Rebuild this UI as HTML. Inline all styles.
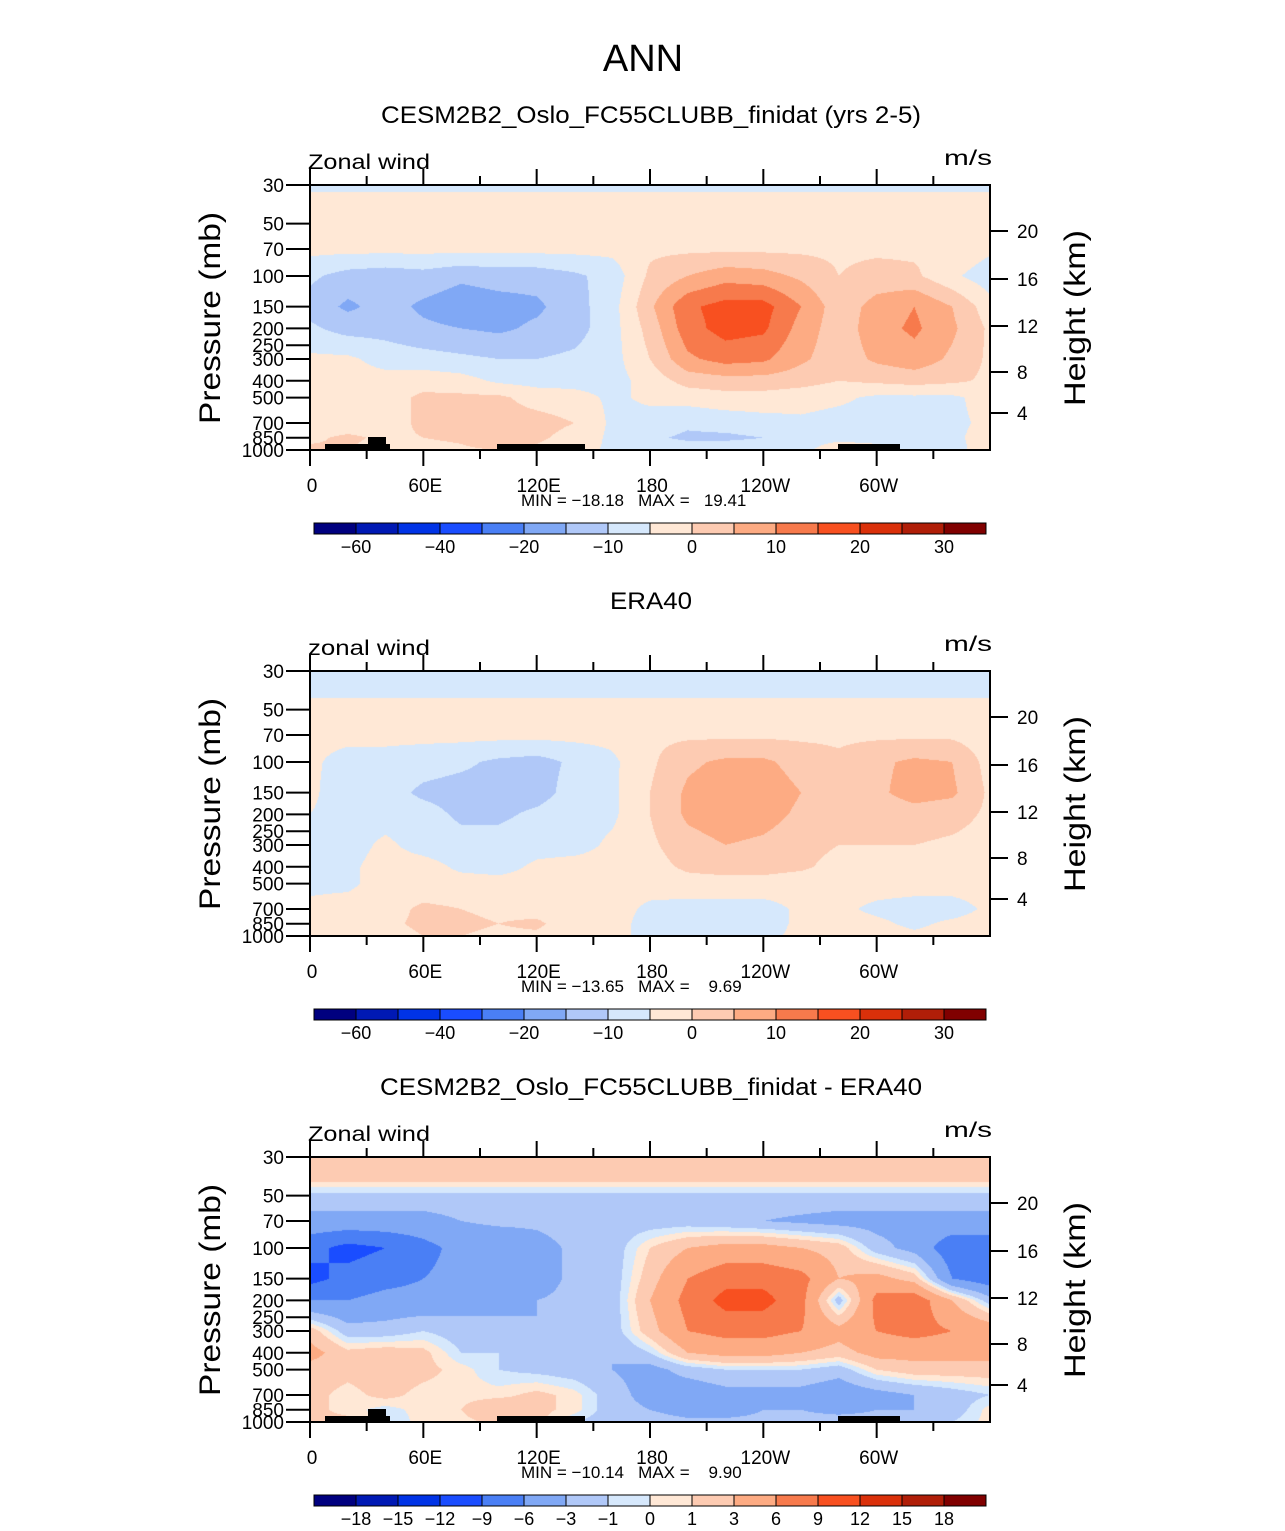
<!DOCTYPE html>
<html><head><meta charset="utf-8"><style>
body{margin:0;background:#fff;width:1285px;height:1531px;overflow:hidden;position:relative;font-family:"Liberation Sans",sans-serif}
canvas{position:absolute}
svg{position:absolute;left:0;top:0}
</style></head><body>
<canvas id="c0" width="680" height="265" style="left:310px;top:185px"></canvas>
<canvas id="c1" width="680" height="265" style="left:310px;top:671px"></canvas>
<canvas id="c2" width="680" height="265" style="left:310px;top:1157px"></canvas>
<svg id="s" width="1285" height="1531"></svg>
<script>
const lons=[0,20,40,60,80,100,120,140,160,180,200,220,240,260,280,300,320,340,360];
const plevs=[30,40,50,70,100,150,200,300,400,500,700,850,1000];
const model=[
[-1,-1,-1,-1,-1,-1,-1,-1,-1,-1,-1,-1,-1,-1,-1,-1,-1,-1,-1],
[2,2,2,2,2,2,2,2,2,2,2,2,2,2,2,2,2,2,2],
[2,2,2,2,2,2,2,2,2,2,2,2,2,2,2,2,2,2,2],
[1.5,1.5,1.5,1.5,1.5,1.5,1.5,1.5,1.5,4,4,4,4,4,4,4,4,4,1],
[-4,-7,-8,-7,-9,-8,-8,-6,-3,6,10,13,12,9,5,7,6,1,-3],
[-7,-11,-8,-11,-13,-12,-11,-7,-2,9,19,22,22,15,7,12,15,10,2],
[-4,-7,-7,-9,-10,-11,-9,-7,-2,7,18,22,21,13,7,13,16,11,4],
[1,1,-2,-3,-4,-5,-5,-4,-2,5,14,17,16,11,7,11,13,9,4],
[3,2,2,3,2,-1,-2,-2,-2,2,7,8,8,7,5,6,7,6,4],
[2,2,3,6,6,6,3,2,-1,1,2,3,3,2,1,-1,-1,-1,2],
[2,2,3,6,7,7,7,5,-1,-2,-4,-3,-2,-1,-2,-2,-2,-1,1],
[4,6,4,5,6,10,6,3,-1,-4,-6,-6,-5,-1,-1,-1,-1,-1,2],
[6,5,3,3,4,5,4,2,-1,-3,-2,-2,-2,-1,2,1,-1,-2,3]];
const era40=[
[-2,-2,-2,-2,-2,-2,-2,-2,-2,-2,-2,-2,-2,-2,-2,-2,-2,-2,-2],
[-1,-1,-1,-1,-1,-1,-1,-1,-1,-1,-1,-1,-1,-1,-1,-1,-1,-1,-1],
[2,2,2,2,2,2,2,2,2,2,2,2,2,2,2,2,2,2,2],
[1.5,1.5,1.5,1.5,1.5,1.5,1.5,1.5,1.5,4,4,4,4,4,4,4,4,4,2],
[1,-2,-2,-3,-4,-6,-7,-4,-1,4,9,11,11,8,6,9,11,10,3],
[1,-3,-3,-6,-7,-7,-7,-3,-1,5,11,13,13,10,6,9,12,11,4],
[0,-2,-2,-3,-6,-6,-4,-2,-1,5,11,13,12,9,6,7,8,7,4],
[-1,-2,1,-2,-3,-3,-2,-2,1,4,8,10,9,7,5,5,5,4,3],
[-1,-1,2,2,-1,-2,1,2,2,3,6,7,7,6,3,3,3,3,3],
[-1,-1,2,2,2,2,2,2,2,2,3,3,3,2,2,2,2,2,2],
[1,2,3,6,5,4,3,2,2,-1,-2,-2,-2,1,1,-1,-2,-2,1],
[3,2,4,6,6,5,6,2,2,-2,-2,-3,-2,1,2,1,-1,1,2],
[4,2,3,5,5,4,4,2,1,-1,-1,-1,-1,1,4,2,1,2,3]];
const diff=[
[2.5,2.5,2.5,2.5,2.5,2,2,2,2,2.5,2.5,2.5,2.5,2.5,2.5,2.5,2.5,2.5,2.5],
[1.5,1.5,1.5,1.5,1.5,1.5,1.5,1.5,1.5,1.5,1.5,1.5,1.5,1.5,1.5,1.5,1.5,1.5,1.5],
[-1.5,-1.5,-1.5,-1.5,-1.5,-1.5,-1.5,-1.5,-1.5,-1.5,-1.5,-1.5,-1.5,-1.5,-1.5,-1.5,-1.5,-1.5,-1.5],
[-4,-4,-4,-4,-3,-2.5,-2.5,-2,-2,-2,-2,-2.5,-3,-3.5,-4,-4,-4,-4,-4],
[-8,-10,-9,-7,-5,-5,-4,-2.5,-2,1,3,4,4,3,2,-2,-4,-8,-8],
[-10,-8,-7,-6,-5,-4,-4,-2.5,-2,2,6,8,8,7,3,4,2,-6,-8],
[-6,-6,-5,-5,-4,-4,-3,-2.5,-2,3,7,10,10,7,-2,7,8,3,-2],
[2,-2,-2,-1,-2,-2,-3,-2,-2,2,6,7,7,6,4,6,7,6,5],
[4,1.5,2,1.5,-1,-1,-2,-2,-3,-1,3,4,4,3,2,4,4,4,4],
[2,1.5,2,1.5,0.5,-1,-1.5,-2,-3,-4,-2,-1,-1,-1,-2,1,2,2,2],
[1.5,0.5,1.5,0.5,0.5,0.5,1.5,0.5,-2,-4,-5,-4,-4,-4,-5,-4,-3,-2,-1],
[1.5,0.5,-0.5,0.5,1,3,1.5,0.5,-2,-3,-4,-4,-3,-3,-4,-3,-3,-2,0.5],
[1.5,1.5,-1,0.5,0.5,1.5,1.5,-1,-2,-2,-2.5,-2.5,-2.5,-2,-1.5,-2,-2,-1,0.5]];
const fillLevelsAbs=[-40,-30,-25,-20,-15,-10,-5,0,5,10,15,20,25,30,35];
const fillLevelsDiff=[-18,-15,-12,-9,-6,-3,-1,0,1,3,6,9,12,15,18];
const barLabelsAbs=["-60","","-40","","-20","","-10","","0","","10","","20","","30"];
const barLabelsDiff=["-18","-15","-12","-9","-6","-3","-1","0","1","3","6","9","12","15","18"];
const colors=["#00007f","#0019b4","#0033e6","#1a4dff","#4a7ff5","#80a8f5","#b0c8f8","#d6e8fc","#ffe8d6","#fdcbb2","#fdab83","#f77a4c","#f85020","#da300a","#b01e08","#800000"];
const leftTicks=[30,50,70,100,150,200,250,300,400,500,700,850,1000];
const heightTicks=[4,8,12,16,20];
const heightPixOffsets=[228,187,141,94,46];
const xLabels=["0","60E","120E","180","120W","60W"];
const panels=[
 {top:185,data:model,lev:fillLevelsAbs,labels:barLabelsAbs,title:"CESM2B2_Oslo_FC55CLUBB_finidat (yrs 2-5)",tl:540,sub:"Zonal wind",mm:"MIN = \u221218.18   MAX =   19.41",topo:true},
 {top:671,data:era40,lev:fillLevelsAbs,labels:barLabelsAbs,title:"ERA40",tl:82,sub:"zonal wind",mm:"MIN = \u221213.65   MAX =    9.69",topo:false},
 {top:1157,data:diff,lev:fillLevelsDiff,labels:barLabelsDiff,title:"CESM2B2_Oslo_FC55CLUBB_finidat - ERA40",tl:542,sub:"Zonal wind",mm:"MIN = \u221210.14   MAX =    9.90",topo:true}];
const X0=310,W=680,H=265;
const xs=lon=>X0+lon/360*W;
const ys=(p,top)=>top+H*Math.log(p/30)/Math.log(1000/30);
function hexRgb(h){return [parseInt(h.slice(1,3),16),parseInt(h.slice(3,5),16),parseInt(h.slice(5,7),16)];}
const rgb=colors.map(hexRgb);
const lp=plevs.map(p=>Math.log(p));
function sample(data,lon,p){
 let fi=lon/20;let i=Math.min(Math.floor(fi),lons.length-2);let tx=fi-i;
 let l=Math.log(p);let j=0;while(j<lp.length-2&&l>lp[j+1])j++;
 let ty=(l-lp[j])/(lp[j+1]-lp[j]);ty=Math.max(0,Math.min(1,ty));
 const a=data[j][i],b=data[j][i+1],c=data[j+1][i],d=data[j+1][i+1];
 return (a*(1-tx)+b*tx)*(1-ty)+(c*(1-tx)+d*tx)*ty;}
panels.forEach((pn,k)=>{
 const cv=document.getElementById('c'+k);const ctx=cv.getContext('2d');
 const img=ctx.createImageData(W,H);
 for(let y=0;y<H;y++){const p=30*Math.exp((y+0.5)/H*Math.log(1000/30));
  for(let x=0;x<W;x++){const v=sample(pn.data,(x+0.5)/W*360,p);
   let c=0;for(const t of pn.lev)if(v>=t)c++;
   const col=rgb[c];const o=(y*W+x)*4;img.data[o]=col[0];img.data[o+1]=col[1];img.data[o+2]=col[2];img.data[o+3]=255;}}
 ctx.putImageData(img,0,0);});
const S=document.getElementById('s');const NS="http://www.w3.org/2000/svg";
function el(tag,at,txt){const e=document.createElementNS(NS,tag);for(const k in at)e.setAttribute(k,at[k]);if(txt!==undefined)e.textContent=txt;S.appendChild(e);return e;}
let t=el('text',{x:643,y:71,'font-size':38,'text-anchor':'middle',fill:'#000'},'ANN');


panels.forEach((pn,k)=>{
 const T=pn.top,B=T+H;
 let e=el('text',{x:651-pn.tl/2,y:T-62,'font-size':24,textLength:pn.tl,lengthAdjust:'spacingAndGlyphs'},pn.title);
 
 
 e=el('text',{x:308,y:T-16,'font-size':21,textLength:122,lengthAdjust:'spacingAndGlyphs'},pn.sub);
 
 
 e=el('text',{x:944,y:T-20,'font-size':21,textLength:48,lengthAdjust:'spacingAndGlyphs'},'m/s');
 
 
 if(pn.topo){
  [[325,390,444],[368,386,437],[497,585,444],[838,900,444]].forEach(r=>{
   const q=el('rect',{x:r[0],y:T+(r[2]-185),width:r[1]-r[0],height:450-r[2],fill:'#000'});
   
   });}
 e=el('rect',{x:X0,y:T,width:W,height:H,fill:'none',stroke:'#000','stroke-width':2});
 
 
 leftTicks.forEach(p=>{const y=ys(p,T);
  let q=el('line',{x1:X0-24,x2:X0,y1:y,y2:y,stroke:'#000','stroke-width':2});
  
  
  q=el('text',{x:284,y:y+7,'font-size':19,'text-anchor':'end'},String(p));
  
  });
 heightTicks.forEach((h,i)=>{const y=T+heightPixOffsets[i];
  let q=el('line',{x1:990,x2:1008,y1:y,y2:y,stroke:'#000','stroke-width':2});
  
  
  q=el('text',{x:1017,y:y+7,'font-size':19},String(h));
  
  });
 for(let lon=0;lon<=330;lon+=30){const x=xs(lon);const maj=lon%60==0;
  let q=el('line',{x1:x,x2:x,y1:B,y2:B+(maj?16:9),stroke:'#000','stroke-width':2});
  
  
  q=el('line',{x1:x,x2:x,y1:T,y2:T-(maj?16:9),stroke:'#000','stroke-width':2});
  
  
  if(maj){q=el('text',{x:x+2,y:B+42,'font-size':19,'text-anchor':'middle'},xLabels[lon/60]);
   
   }}
 e=el('text',{x:521,y:B+56,'font-size':17,style:'white-space:pre'},pn.mm);
 
 
 e=el('text',{x:0,y:0,'font-size':30,'text-anchor':'middle',textLength:212,lengthAdjust:'spacingAndGlyphs',transform:`translate(220,${T+133}) rotate(-90)`},'Pressure (mb)');
 
 
 e=el('text',{x:0,y:0,'font-size':30,'text-anchor':'middle',textLength:176,lengthAdjust:'spacingAndGlyphs',transform:`translate(1085,${T+133}) rotate(-90)`},'Height (km)');
 
 
 const cy=B+73;
 colors.forEach((c,i)=>{const q=el('rect',{x:314+42*i,y:cy,width:42,height:11,fill:c,stroke:'#000','stroke-width':1});
  
  });
 pn.labels.forEach((l,i)=>{if(!l)return;
  const q=el('text',{x:356+42*i,y:cy+30,'font-size':18,'text-anchor':'middle'},l.replace('-','\u2212'));
  
  });
});
</script>
</body></html>
